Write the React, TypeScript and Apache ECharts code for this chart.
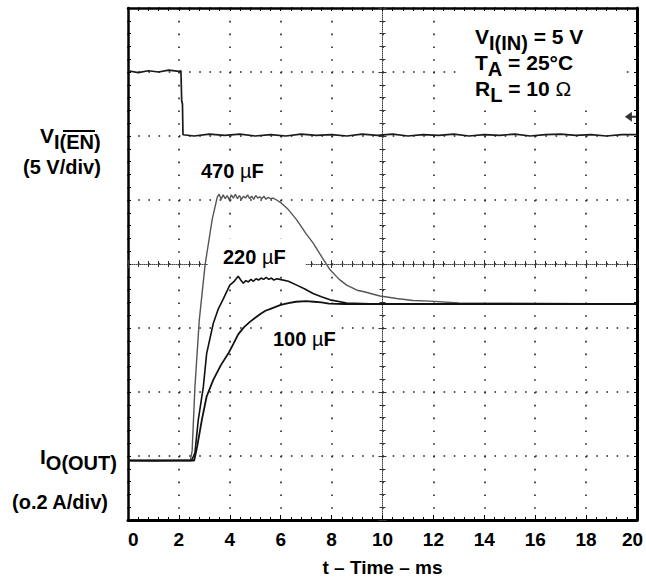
import React, { useEffect, useRef } from 'react';
import * as echarts from 'echarts';

// ---- data (time in ms, vertical position in scope divisions) ----
const xTickValues = [0, 2, 4, 6, 8, 10, 12, 14, 16, 18, 20];

const enT = [0, 0.4, 0.8, 1.2, 1.6, 2.0, 2.08, 2.11, 2.14, 2.16,
  2.6, 3.2, 3.8, 4.4, 5.0, 5.6, 6.2, 6.8, 7.4, 8.0,
  8.6, 9.2, 9.8, 10.4, 11.0, 11.6, 12.2, 12.8, 13.4, 14.0,
  14.6, 15.2, 15.8, 16.4, 17.0, 17.6, 18.2, 18.8, 19.4, 20];
const enV = [7.02, 6.99, 7.02, 7.0, 7.03, 7.01, 7.02, 6.55, 6.5, 6.02,
  6.0, 6.03, 6.01, 6.03, 6.0, 6.02, 6.0, 6.03, 6.01, 6.02,
  6.0, 6.03, 6.01, 6.03, 6.0, 6.02, 6.01, 6.03, 6.0, 6.02,
  6.01, 6.03, 6.0, 6.02, 6.03, 6.01, 6.02, 6.0, 6.02, 6.02];

const c470T = [0, 1.0, 2.0, 2.45, 2.52, 2.63, 2.8, 3.03, 3.31, 3.51,
  3.58, 3.66, 3.74, 3.82, 3.9, 3.98, 4.06, 4.14, 4.22, 4.3,
  4.38, 4.46, 4.54, 4.62, 4.7, 4.78, 4.86, 4.94, 5.02, 5.1,
  5.18, 5.26, 5.34, 5.42, 5.5, 5.6, 5.7, 5.84,
  6.0, 6.3, 6.63, 7.0, 7.27, 7.6, 7.94, 8.3, 8.59, 9.0, 9.24, 9.9, 10.56, 11.2, 11.87, 13.0, 20];
const c470V = [0.93, 0.92, 0.93, 0.93, 1.08, 2.08, 3.12, 3.99, 4.70, 5.05,
  5.09, 5.01, 5.08, 5.02, 5.07, 5.0, 5.08, 5.03, 5.09, 5.02,
  5.07, 5.01, 5.06, 5.03, 5.08, 5.02, 5.06, 5.01, 5.07, 5.03,
  5.05, 5.02, 5.06, 5.01, 5.04, 5.02, 5.03, 5.0,
  4.96, 4.85, 4.69, 4.47, 4.33, 4.12, 3.91, 3.76, 3.67, 3.59, 3.57, 3.50, 3.46, 3.43, 3.42, 3.39, 3.375];

const c220T = [0, 1.2, 2.5, 2.63, 2.76, 2.96, 3.09, 3.35, 3.55, 3.75,
  4.0, 4.15, 4.33,
  4.43, 4.53, 4.63, 4.73, 4.83, 4.93, 5.03, 5.13, 5.23, 5.33, 5.43, 5.53, 5.63, 5.73,
  5.85, 5.97,
  6.3, 6.63, 6.95, 7.27, 7.6, 7.94, 8.59, 9.5, 20];
const c220V = [0.93, 0.93, 0.93, 1.05, 1.56, 2.08, 2.60, 3.07, 3.30, 3.46,
  3.67, 3.72, 3.81,
  3.75, 3.70, 3.74, 3.72, 3.76, 3.73, 3.77, 3.75, 3.78, 3.76, 3.79, 3.76, 3.78, 3.75,
  3.77, 3.76,
  3.73, 3.67, 3.61, 3.54, 3.49, 3.44, 3.39, 3.38, 3.375];

const c100T = [0, 1.3, 2.6, 2.72, 2.9, 3.09, 3.35, 3.65, 3.94, 4.15,
  4.33, 4.55, 4.8, 5.0, 5.2, 5.4, 5.6, 5.8, 6.0, 6.3,
  6.6, 7.0, 7.3, 7.6, 7.9, 8.5, 20];
const c100V = [0.93, 0.93, 0.93, 1.15, 1.56, 1.93, 2.19, 2.42, 2.60, 2.76,
  2.90, 3.01, 3.10, 3.16, 3.22, 3.27, 3.30, 3.33, 3.36, 3.39,
  3.41, 3.42, 3.41, 3.40, 3.38, 3.375, 3.375];

const markerT = [19.76];
const markerV = [6.30];

const zip = (a: number[], b: number[]) => a.slice(0, Math.min(a.length, b.length)).map((t, i) => [t, b[i]]);

const FONT = '"Liberation Sans", Arial, Helvetica, sans-serif';
const BLACK = '#000';

const baseX = { type: 'value', min: 0, max: 20, interval: 2 };
const baseY = { type: 'value', min: 0, max: 8, interval: 1 };
const noLabel = { show: false };

const option: any = {
  animation: false,
  backgroundColor: '#fff',
  grid: { left: 128, right: 9, top: 8, bottom: 59, containLabel: false, outerBoundsMode: 'none' },
  xAxis: [
    {
      ...baseX, position: 'bottom',
      axisLine: { show: true, onZero: false, lineStyle: { color: BLACK, width: 3 } },
      axisTick: { show: true, inside: true, length: 5, lineStyle: { color: BLACK, width: 1 } },
      minorTick: { show: true, splitNumber: 5, length: 3, lineStyle: { color: BLACK, width: 1 } },
      axisLabel: {
        color: BLACK, fontSize: 19, fontWeight: 'bold', fontFamily: FONT, margin: 10,
        alignMinLabel: 'left',
        formatter: (v: number) => {
          if (!xTickValues.includes(v)) return '';
          return v === xTickValues[xTickValues.length - 1] ? `{r|${v}}` : String(v);
        },
        rich: { r: { fontSize: 19, fontWeight: 'bold', fontFamily: FONT, color: BLACK, padding: [0, 9, 0, 0] } },
      },
      splitLine: { show: true, lineStyle: { color: '#222', width: 1.6, type: [1.6, 11.2] } },
      name: 't – Time – ms', nameLocation: 'middle', nameGap: 38,
      nameTextStyle: { color: BLACK, fontSize: 19, fontWeight: 'bold', fontFamily: FONT, lineHeight: 19 },
    },
    {
      ...baseX, position: 'top',
      axisLine: { show: true, onZero: false, lineStyle: { color: BLACK, width: 2.5 } },
      axisTick: { show: true, inside: true, length: 3, lineStyle: { color: BLACK, width: 1 } },
      minorTick: { show: true, splitNumber: 5, length: 3, lineStyle: { color: BLACK, width: 1 } },
      axisLabel: noLabel, splitLine: { show: false },
    },
    {
      ...baseX, position: 'bottom', offset: -256,
      axisLine: { show: true, onZero: false, lineStyle: { color: '#444', width: 1, type: [1, 1] } },
      axisTick: { show: true, inside: true, length: 4, lineStyle: { color: '#333', width: 1 } },
      minorTick: { show: true, splitNumber: 5, length: 3, lineStyle: { color: '#333', width: 1 } },
      axisLabel: noLabel, splitLine: { show: false },
    },
    {
      ...baseX, position: 'bottom', offset: -256,
      axisLine: { show: false, onZero: false },
      axisTick: { show: true, inside: false, length: 4, lineStyle: { color: '#333', width: 1 } },
      minorTick: { show: true, splitNumber: 5, length: 3, lineStyle: { color: '#333', width: 1 } },
      axisLabel: noLabel, splitLine: { show: false },
    },
  ],
  yAxis: [
    {
      ...baseY, position: 'left',
      axisLine: { show: true, onZero: false, lineStyle: { color: BLACK, width: 2.5 } },
      axisTick: { show: true, inside: true, length: 3, lineStyle: { color: BLACK, width: 1 } },
      minorTick: { show: true, splitNumber: 5, length: 3, lineStyle: { color: BLACK, width: 1 } },
      axisLabel: noLabel,
      splitLine: { show: true, lineStyle: { color: '#222', width: 1.6, type: [1.6, 8.58] } },
    },
    {
      ...baseY, position: 'right',
      axisLine: { show: true, onZero: false, lineStyle: { color: BLACK, width: 3 } },
      axisTick: { show: true, inside: true, length: 3, lineStyle: { color: BLACK, width: 1 } },
      minorTick: { show: true, splitNumber: 5, length: 3, lineStyle: { color: BLACK, width: 1 } },
      axisLabel: noLabel, splitLine: { show: false },
    },
    {
      ...baseY, position: 'left', offset: -254.5,
      axisLine: { show: true, onZero: false, lineStyle: { color: '#444', width: 1, type: [1, 1] } },
      axisTick: { show: true, inside: true, length: 4, lineStyle: { color: '#333', width: 1 } },
      minorTick: { show: true, splitNumber: 5, length: 3, lineStyle: { color: '#333', width: 1 } },
      axisLabel: noLabel, splitLine: { show: false },
    },
    {
      ...baseY, position: 'left', offset: -254.5,
      axisLine: { show: false, onZero: false },
      axisTick: { show: true, inside: false, length: 4, lineStyle: { color: '#333', width: 1 } },
      minorTick: { show: true, splitNumber: 5, length: 3, lineStyle: { color: '#333', width: 1 } },
      axisLabel: noLabel, splitLine: { show: false },
    },
  ],
  series: [
    {
      name: 'V_EN', type: 'line', data: zip(enT, enV), showSymbol: false, z: 10,
      lineStyle: { color: '#1a1a1a', width: 1.7 },
    },
    {
      name: '470 µF', type: 'line', data: zip(c470T, c470V), showSymbol: false, z: 10,
      lineStyle: { color: '#555', width: 1.4 },
    },
    {
      name: '220 µF', type: 'line', data: zip(c220T, c220V), showSymbol: false, z: 11,
      lineStyle: { color: '#111', width: 1.6 },
    },
    {
      name: '100 µF', type: 'line', data: zip(c100T, c100V), showSymbol: false, z: 12,
      lineStyle: { color: '#111', width: 1.8 },
    },
    {
      name: 'marker', type: 'scatter', data: zip(markerT, markerV), clip: false, z: 12,
      symbol: 'path://M0,5 L7,0 L7,4 L12,4 L12,6 L7,6 L7,10 Z', symbolSize: [12, 10],
      itemStyle: { color: '#000' },
    },
  ],
  graphic: {
    elements: [
      { type: 'rect', z: 5, shape: { x: 456, y: 15, width: 168, height: 92 }, style: { fill: '#fff' } },
      {
        type: 'text', z: 6, x: 475, y: 26,
        style: {
          text: '{m|V}{s|I(IN)}{m| = 5 V}\n{m|T}{s|A}{m| = 25°C}\n{m|R}{s|L}{m| = 10 }{o|Ω}',
          rich: {
            m: { fontSize: 21, fontWeight: 'bold', fontFamily: FONT, fill: BLACK, verticalAlign: 'top', lineHeight: 26 },
            s: { fontSize: 20, fontWeight: 'bold', fontFamily: FONT, fill: BLACK, verticalAlign: 'top', lineHeight: 19, padding: [7, 0, 0, 0] },
            o: { fontSize: 21, fontWeight: 'normal', fontFamily: FONT, fill: BLACK, verticalAlign: 'top', lineHeight: 26 },
          },
        },
      },
      {
        type: 'text', z: 6, x: 198, y: 170.5,
        style: {
          text: '{b|470 }{u|µ}{b|F}', verticalAlign: 'middle', backgroundColor: '#fff', padding: [4, 3],
          rich: {
            b: { fontSize: 20, fontWeight: 'bold', fontFamily: FONT, fill: BLACK },
            u: { fontSize: 20, fontWeight: 'normal', fontFamily: FONT, fill: BLACK },
          },
        },
      },
      {
        type: 'text', z: 6, x: 208, y: 256.5,
        style: {
          text: '{b|220 }{u|µ}{b|F}', verticalAlign: 'middle', backgroundColor: '#fff', padding: [8, 20, 8, 15],
          rich: {
            b: { fontSize: 20, fontWeight: 'bold', fontFamily: FONT, fill: BLACK },
            u: { fontSize: 20, fontWeight: 'normal', fontFamily: FONT, fill: BLACK },
          },
        },
      },
      {
        type: 'text', z: 6, x: 270, y: 339,
        style: {
          text: '{b|100 }{u|µ}{b|F}', verticalAlign: 'middle', backgroundColor: '#fff', padding: [4, 3],
          rich: {
            b: { fontSize: 20, fontWeight: 'bold', fontFamily: FONT, fill: BLACK },
            u: { fontSize: 20, fontWeight: 'normal', fontFamily: FONT, fill: BLACK },
          },
        },
      },
      {
        type: 'text', z: 6, x: 40, y: 125,
        style: {
          text: '{m|V}{s|I(EN)}',
          rich: {
            m: { fontSize: 21, fontWeight: 'bold', fontFamily: FONT, fill: BLACK, verticalAlign: 'top', lineHeight: 26 },
            s: { fontSize: 20, fontWeight: 'bold', fontFamily: FONT, fill: BLACK, verticalAlign: 'top', lineHeight: 19, padding: [7, 0, 0, 0] },
          },
        },
      },
      { type: 'line', z: 6, shape: { x1: 63, y1: 131, x2: 95, y2: 131 }, style: { stroke: BLACK, lineWidth: 2 } },
      {
        type: 'text', z: 6, x: 23, y: 167,
        style: { text: '(5 V/div)', verticalAlign: 'middle', fontSize: 20, fontWeight: 'bold', fontFamily: FONT, fill: BLACK },
      },
      {
        type: 'text', z: 6, x: 40, y: 446,
        style: {
          text: '{m|I}{s|O(OUT)}',
          rich: {
            m: { fontSize: 21, fontWeight: 'bold', fontFamily: FONT, fill: BLACK, verticalAlign: 'top', lineHeight: 26 },
            s: { fontSize: 20, fontWeight: 'bold', fontFamily: FONT, fill: BLACK, verticalAlign: 'top', lineHeight: 19, padding: [7, 0, 0, 0] },
          },
        },
      },
      {
        type: 'text', z: 6, x: 12, y: 502,
        style: { text: '(o.2 A/div)', verticalAlign: 'middle', fontSize: 20, fontWeight: 'bold', fontFamily: FONT, fill: BLACK },
      },
    ],
  },
};

export default function App() {
  const ref = useRef<HTMLDivElement>(null);
  useEffect(() => {
    if (!ref.current) return;
    const chart = echarts.init(ref.current, undefined, { renderer: 'svg' });
    chart.setOption(option);
    return () => chart.dispose();
  }, []);
  return <div ref={ref} style={{ position: 'fixed', left: 0, top: 0, width: 646, height: 579 }} />;
}
